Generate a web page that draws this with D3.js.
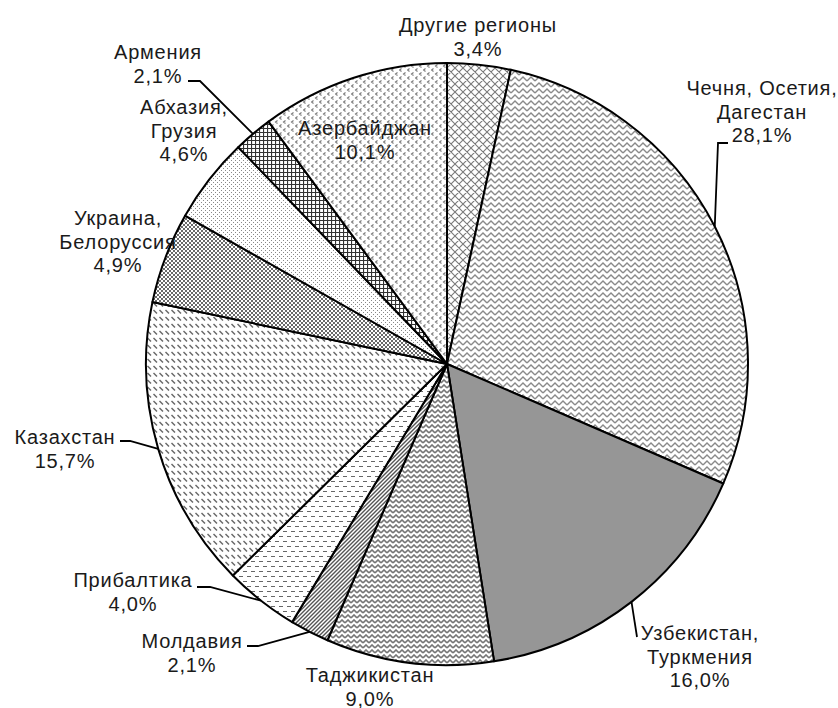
<!DOCTYPE html>
<html>
<head>
<meta charset="utf-8">
<script src="https://cdn.jsdelivr.net/npm/d3@7"></script>
<style>
  body { margin: 0; background: #fff; }
  svg { display: block; }
  .lbl { font-family: "Liberation Sans", Arial, sans-serif; font-size: 20px; letter-spacing: 0.8px; fill: #1a1a1a; }
</style>
</head>
<body>
<div id="chart"></div>
<script>
// data, clockwise from 12 o'clock
const regions = [
  ['Другие регионы'],
  ['Чечня, Осетия,', 'Дагестан'],
  ['Узбекистан,', 'Туркмения'],
  ['Таджикистан'],
  ['Молдавия'],
  ['Прибалтика'],
  ['Казахстан'],
  ['Украина,', 'Белоруссия'],
  ['Абхазия,', 'Грузия'],
  ['Армения'],
  ['Азербайджан']
];
const shares = [3.4, 28.1, 16.0, 9.0, 2.1, 4.0, 15.7, 4.9, 4.6, 2.1, 10.1];
const fills = ['diamond', 'zigzag', 'solid', 'zigzagDark', 'upDiag', 'hDash', 'downDash', 'denseDots', 'sparseDots', 'grid', 'chevron'];

// layout: label centre x, first line centre y, optional leader elbow points
const labelLayout = [
  {x: 478, y: 25},
  {x: 762, y: 88, leader: [[728, 143], [718, 143]]},
  {x: 700, y: 633, leader: [[637, 637]]},
  {x: 370, y: 675},
  {x: 192, y: 641, leader: [[247, 646], [258, 646]]},
  {x: 133, y: 580, leader: [[197, 587], [210, 587]]},
  {x: 65, y: 437, leader: [[120, 441], [130, 441]]},
  {x: 118, y: 218},
  {x: 184, y: 107},
  {x: 158, y: 52, leader: [[188, 81], [200, 81]]},
  {x: 365, y: 128}
];

const width = 838, height = 708;
const cx = 447, cy = 364, radius = 301;
const lineH = 23.5;

const svg = d3.select('#chart').append('svg')
    .attr('width', width)
    .attr('height', height);

const defs = svg.append('defs');

function pattern(id, w, h, draw){
  const p = defs.append('pattern')
      .attr('id', id)
      .attr('patternUnits', 'userSpaceOnUse')
      .attr('width', w)
      .attr('height', h);
  p.append('rect').attr('width', w).attr('height', h).attr('fill', '#fff');
  draw(p);
}

pattern('diamond', 8, 8, p => {
  p.append('path').attr('d', 'M0,0L8,8M8,0L0,8M-1,7L1,9M7,-1L9,1M-1,1L1,-1M7,9L9,7')
      .attr('stroke', '#7a7a7a').attr('stroke-width', 1.1).attr('fill', 'none');
});
pattern('zigzag', 8, 6, p => {
  p.append('path').attr('d', 'M0,5L4,1L8,5')
      .attr('stroke', '#8a8a8a').attr('stroke-width', 1.4).attr('fill', 'none');
});
pattern('zigzagDark', 6, 5, p => {
  p.append('path').attr('d', 'M0,4L3,1L6,4')
      .attr('stroke', '#777').attr('stroke-width', 1.6).attr('fill', 'none');
});
pattern('upDiag', 4, 4, p => {
  p.append('path').attr('d', 'M0,4L4,0M-1,1L1,-1M3,5L5,3')
      .attr('stroke', '#555').attr('stroke-width', 1.4).attr('fill', 'none');
});
pattern('hDash', 8, 10, p => {
  p.append('path').attr('d', 'M0,2.5H4M4,7.5H8')
      .attr('stroke', '#666').attr('stroke-width', 1.2).attr('fill', 'none');
});
pattern('downDash', 6, 7, p => {
  p.append('path').attr('d', 'M0.5,2L4,5.5')
      .attr('stroke', '#666').attr('stroke-width', 1.5).attr('fill', 'none');
});
pattern('denseDots', 4, 4, p => {
  p.append('rect').attr('x', 0).attr('y', 0).attr('width', 2).attr('height', 2).attr('fill', '#6a6a6a');
  p.append('rect').attr('x', 2).attr('y', 2).attr('width', 2).attr('height', 2).attr('fill', '#6a6a6a');
});
pattern('sparseDots', 4, 4, p => {
  p.append('rect').attr('x', 0).attr('y', 0).attr('width', 1).attr('height', 1).attr('fill', '#888');
  p.append('rect').attr('x', 2).attr('y', 2).attr('width', 1).attr('height', 1).attr('fill', '#888');
});
pattern('grid', 4, 4, p => {
  p.append('path').attr('d', 'M0,0.5H4M0.5,0V4')
      .attr('stroke', '#333').attr('stroke-width', 1.2).attr('fill', 'none');
});
pattern('chevron', 8, 8, p => {
  p.append('path').attr('d', 'M2.5,0.5L0.5,2L2.5,3.5M6.5,4.5L4.5,6L6.5,7.5')
      .attr('stroke', '#777').attr('stroke-width', 1.1).attr('fill', 'none');
});

const pie = d3.pie().sort(null).value(d => d);
const arcs = pie(shares);

const arc = d3.arc().innerRadius(0).outerRadius(radius);
const edge = d3.arc().innerRadius(radius).outerRadius(radius);

const g = svg.append('g').attr('transform', `translate(${cx},${cy})`);

g.selectAll('path.slice')
    .data(arcs)
    .enter()
    .append('path')
    .attr('class', 'slice')
    .attr('d', arc)
    .attr('fill', (d, i) => fills[i] === 'solid' ? '#969696' : `url(#${fills[i]})`)
    .attr('stroke', '#000')
    .attr('stroke-width', 2)
    .attr('stroke-linejoin', 'round');

// leader lines
arcs.forEach((d, i) => {
  const lay = labelLayout[i];
  if(!lay.leader) return;
  const [ex, ey] = edge.centroid(d);
  const pts = lay.leader.concat([[ex + cx, ey + cy]]);
  svg.append('path')
      .attr('d', d3.line()(pts))
      .attr('fill', 'none')
      .attr('stroke', '#000')
      .attr('stroke-width', 1.8);
});

// labels
const fmt = v => v.toFixed(1).replace('.', ',') + '%';

regions.forEach((lines, i) => {
  const lay = labelLayout[i];
  const all = lines.concat([fmt(shares[i])]);
  const t = svg.append('text')
      .attr('class', 'lbl')
      .attr('text-anchor', 'middle');
  all.forEach((s, k) => {
    t.append('tspan')
        .attr('x', lay.x)
        .attr('y', lay.y + k*lineH)
        .attr('dy', '0.35em')
        .text(s);
  });
});
</script>
</body>
</html>
